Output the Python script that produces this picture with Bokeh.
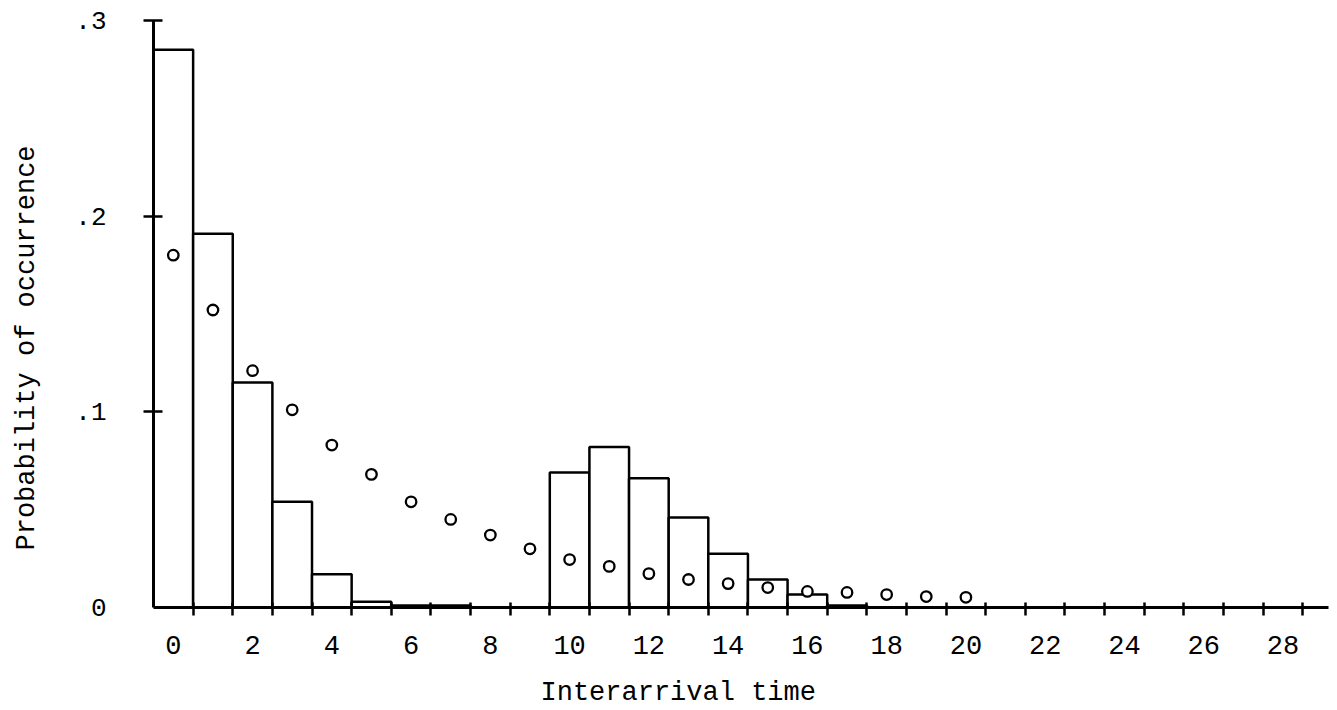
from bokeh.plotting import figure
from bokeh.models import FixedTicker, CustomJSTickFormatter, Range1d, Title, ColumnDataSource
from bokeh.embed import file_html
from bokeh.resources import INLINE

# ---- data ----
bin_centers = list(range(0, 18))
observed = [0.285, 0.191, 0.115, 0.054, 0.017, 0.003, 0.001, 0.001, 0.0, 0.0,
            0.069, 0.082, 0.066, 0.046, 0.0275, 0.0143, 0.0066, 0.001]
fit_x = list(range(0, 21))
fit_y = [0.180, 0.152, 0.121, 0.101, 0.083, 0.068, 0.054, 0.045, 0.037, 0.030,
         0.0245, 0.021, 0.0173, 0.0143, 0.0122, 0.0102, 0.0082, 0.0077, 0.0066,
         0.0056, 0.0052]
x_label_ticks = list(range(0, 29, 2))
x_edge_ticks = [k + 0.5 for k in range(0, 29)]
y_ticks = [0.0, 0.1, 0.2, 0.3]
y_cross_ticks = [0.1, 0.2, 0.3]
x_title = "Interarrival time"
y_title = "Probability of occurrence"

FONT = "Liberation Mono"

p = figure(width=1333, height=710, output_backend="svg", toolbar_location=None,
           x_range=Range1d(-0.5, 29.2), y_range=Range1d(0, 0.305),
           min_border_left=153, min_border_right=3, min_border_top=10, min_border_bottom=103)
p.background_fill_color = "white"
p.border_fill_color = "white"
p.outline_line_color = None
p.xgrid.visible = False
p.ygrid.visible = False

src = ColumnDataSource(dict(x=bin_centers, top=observed))
p.vbar(x="x", top="top", width=1.0, bottom=0, source=src,
       fill_color="white", line_color="black", line_width=2.5)
p.scatter(fit_x, fit_y, marker="circle", size=10.5, fill_color="white",
          line_color="black", line_width=2.3)

# x axis
xa = p.xaxis[0]
xa.ticker = FixedTicker(ticks=x_label_ticks, minor_ticks=x_edge_ticks)
xa.bounds = (-0.5, 29.15)
xa.axis_line_width = 3
xa.axis_line_color = "black"
xa.major_tick_in = 0
xa.major_tick_out = 0
xa.minor_tick_in = 5
xa.minor_tick_out = 8
xa.minor_tick_line_width = 2.5
xa.minor_tick_line_color = "black"
xa.major_label_standoff = 20
xa.major_label_text_font = FONT
xa.major_label_text_font_size = "27px"
xa.major_label_text_color = "black"
# blank spacer label (keeps the title below at the right distance)
xa.axis_label = " "
xa.axis_label_text_font_size = "10px"
xa.axis_label_standoff = 3

# y axis
ya = p.yaxis[0]
ya.ticker = FixedTicker(ticks=y_ticks, minor_ticks=y_cross_ticks)
ya.bounds = (0, 0.3)
ya.axis_line_width = 3
ya.axis_line_color = "black"
ya.major_tick_in = 0
ya.major_tick_out = 0
ya.minor_tick_in = 9
ya.minor_tick_out = 10
ya.minor_tick_line_width = 2.5
ya.minor_tick_line_color = "black"
ya.major_label_standoff = 37
ya.major_label_text_font = FONT
ya.major_label_text_font_size = "26px"
ya.major_label_text_color = "black"
ya.formatter = CustomJSTickFormatter(code="""
    if (Math.abs(tick) < 1e-9) { return "0"; }
    return "." + Math.round(tick * 10);
""")
ya.axis_label = " "
ya.axis_label_text_font_size = "10px"
ya.axis_label_standoff = 8

p.add_layout(Title(text=x_title, text_font=FONT, text_font_size="27px",
                   text_font_style="normal", text_color="black",
                   align="left", offset=387, standoff=5), "below")
p.add_layout(Title(text=y_title, text_font=FONT, text_font_size="27px",
                   text_font_style="normal", text_color="black",
                   align="left", offset=57, standoff=18), "left")

open("out.html", "w").write(file_html(p, INLINE))
